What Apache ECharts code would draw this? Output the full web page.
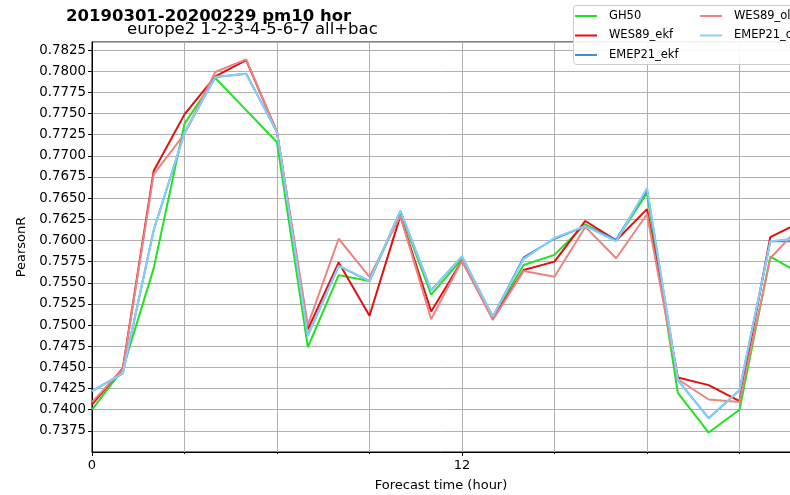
<!DOCTYPE html>
<html>
<head>
<meta charset="utf-8">
<script src="https://cdn.jsdelivr.net/npm/echarts@6/dist/echarts.min.js"></script>
<style>html,body{margin:0;padding:0;background:#fff}#c{width:790px;height:495px}</style>
</head>
<body>
<div id="c"></div>
<script>
const hours = [0,1,2,3,4,5,6,7,8,9,10,11,12,13,14,15,16,17,18,19,20,21,22,23];
const seriesNames = ['GH50','WES89_ekf','EMEP21_ekf','WES89_ol','EMEP21_ol'];
const GH50       = [0.7400,0.7448,0.7567,0.7738,0.7792,0.7754,0.7716,0.7474,0.7559,0.7552,0.7633,0.7536,0.7578,0.7510,0.7571,0.7583,0.7619,0.7600,0.7656,0.7420,0.7373,0.7400,0.7581,0.7560];
const WES89_ekf  = [0.7406,0.7449,0.7682,0.7749,0.7794,0.7813,0.7728,0.7495,0.7574,0.7511,0.7629,0.7516,0.7576,0.7508,0.7565,0.7575,0.7623,0.7600,0.7637,0.7438,0.7429,0.7410,0.7604,0.7622];
const EMEP21_ekf = [0.7422,0.7443,0.7612,0.7727,0.7793,0.7797,0.7728,0.7488,0.7570,0.7552,0.7635,0.7541,0.7581,0.7510,0.7580,0.7602,0.7617,0.7601,0.7660,0.7435,0.7390,0.7423,0.7599,0.7599];
const WES89_ol   = [0.7409,0.7448,0.7678,0.7726,0.7799,0.7814,0.7728,0.7500,0.7602,0.7557,0.7629,0.7507,0.7576,0.7506,0.7564,0.7557,0.7616,0.7579,0.7631,0.7436,0.7412,0.7409,0.7579,0.7618];
const EMEP21_ol  = [0.7422,0.7443,0.7612,0.7727,0.7793,0.7797,0.7728,0.7487,0.7570,0.7552,0.7635,0.7541,0.7581,0.7510,0.7578,0.7603,0.7617,0.7599,0.7662,0.7435,0.7390,0.7423,0.7599,0.7603];
const yTickStep = 0.0025;
const xTickLabels = ['0','12','24'];

const colors = ['#22e022','#e01010','#3a8fd8','#e88484','#8acdf6'];
const values = [GH50, WES89_ekf, EMEP21_ekf, WES89_ol, EMEP21_ol];
const font = 'DejaVu Sans';

const legendText = {fontFamily:font,fontSize:11.5,color:'#000',lineHeight:14,padding:[0,0,0,7]};

const chart = echarts.init(document.getElementById('c'), null, {renderer:'canvas'});
chart.setOption({
  animation:false,
  backgroundColor:'#fff',
  textStyle:{fontFamily:font},
  title:[
    {text:'20190301-20200229 pm10 hor', left:66, top:8, padding:0, textStyle:{fontFamily:font,fontSize:16.5,fontWeight:'bold',color:'#000'}},
    {text:'europe2 1-2-3-4-5-6-7 all+bac', left:127, top:21, padding:0, textStyle:{fontFamily:font,fontSize:16.5,fontWeight:'normal',color:'#000'}}
  ],
  graphic:[
    {type:'rect', left:573, top:5, shape:{width:240,height:59,r:3}, style:{fill:'rgba(255,255,255,0.9)',stroke:'#cccccc',lineWidth:1}, z:100},
    {type:'text', style:{text:'Forecast time (hour)', x:441, y:486, textAlign:'center', textVerticalAlign:'middle', font:'13px DejaVu Sans', fill:'#000'}}
  ],
  legend:[
    {data:seriesNames.slice(0,3), orient:'vertical', left:575, top:9, padding:0, itemWidth:22, itemHeight:2, itemGap:5.5, icon:'rect',
     textStyle:legendText, z:110},
    {data:seriesNames.slice(3), orient:'vertical', left:700, top:9, padding:0, itemWidth:22, itemHeight:2, itemGap:5.5, icon:'rect',
     textStyle:legendText, z:110}
  ],
  grid:{left:92, top:42, width:740, bottom:43, outerBoundsMode:'none', containLabel:false, show:true, borderColor:'#000', borderWidth:1, backgroundColor:'transparent'},
  xAxis:{
    type:'value', min:0, max:24, interval:12,
    axisLine:{show:true,lineStyle:{color:'#000',width:1}},
    axisTick:{show:true,length:4,lineStyle:{color:'#000'}},
    minorTick:{show:true,splitNumber:4,length:2,lineStyle:{color:'#000'}},
    splitLine:{show:true,lineStyle:{color:'#b0b0b0',width:1}},
    minorSplitLine:{show:true,lineStyle:{color:'#b0b0b0',width:1}},
    axisLabel:{color:'#000',fontSize:13,fontFamily:font,margin:7,formatter:v=>{const i=[0,12,24].indexOf(v);return i>=0?xTickLabels[i]:'';}}
  },
  yAxis:{
    type:'value', min:0.735, max:0.78345, interval:yTickStep,
    name:'PearsonR', nameLocation:'middle', nameGap:63, nameRotate:90,
    nameTextStyle:{color:'#000',fontSize:13,fontFamily:font},
    axisLine:{show:true,lineStyle:{color:'#000',width:1}},
    axisTick:{show:true,length:4,lineStyle:{color:'#000'}},
    splitLine:{show:true,lineStyle:{color:'#b0b0b0',width:1}},
    axisLabel:{color:'#000',fontSize:13.4,fontFamily:font,margin:6,showMinLabel:false,showMaxLabel:false,formatter:v=>v.toFixed(4)}
  },
  series: seriesNames.map((n,i)=>({
    name:n, type:'line', data:hours.map((h,j)=>[h, values[i][j]]),
    showSymbol:false, symbol:'none', clip:true,
    lineStyle:{color:colors[i], width:2}, itemStyle:{color:colors[i]}, z:2+i
  }))
});
</script>
</body>
</html>
